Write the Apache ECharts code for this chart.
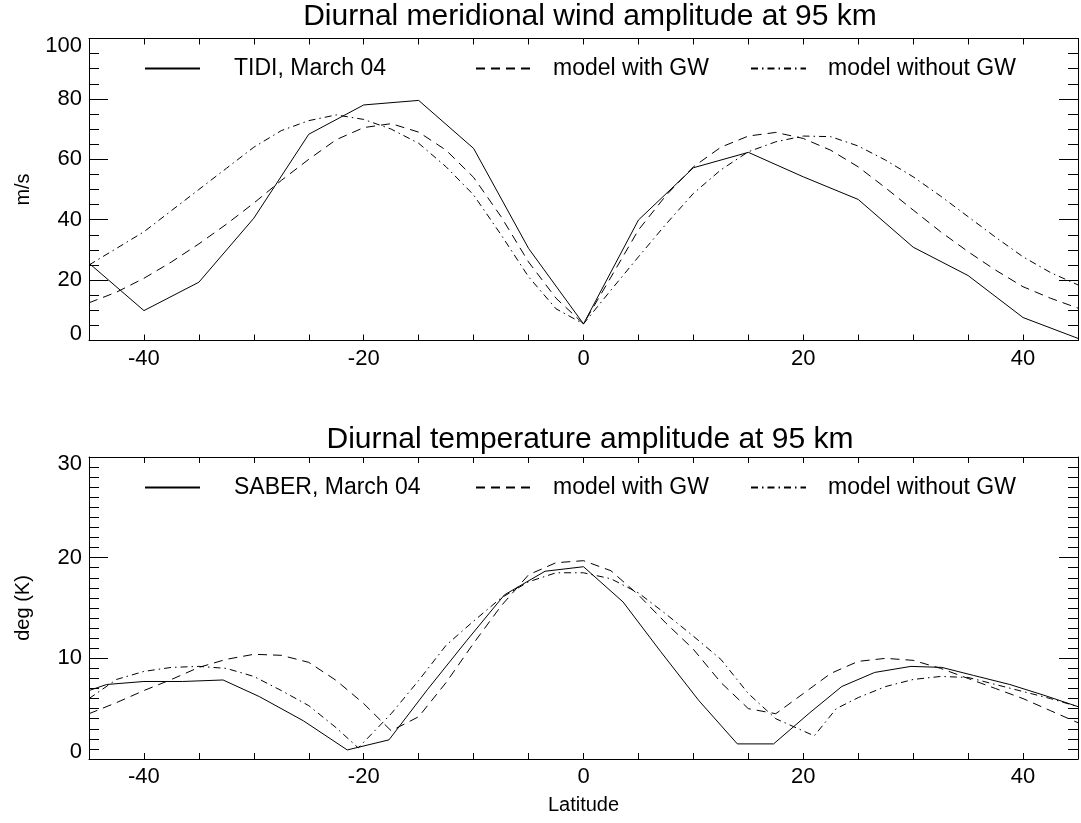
<!DOCTYPE html>
<html><head><meta charset="utf-8">
<script src="https://cdn.jsdelivr.net/npm/echarts@6/dist/echarts.min.js"></script>
<style>html,body{margin:0;padding:0;background:#fff}#c{width:1081px;height:823px}</style>
</head><body><div id="c"></div>
<script>
// ---------- Top panel: diurnal meridional wind amplitude (m/s) ----------
const tidiLat = [-45,-40,-35,-30,-25,-20,-15,-10,-5,0,5,10,15,20,25,30,35,40,45];
const tidiWind = [25.6,9.9,19.3,40.5,68.3,78,79.5,63.6,30.5,5.5,39.9,57.2,62.3,54.2,46.7,30.9,21.5,7.6,0.7];
const windModelLat = [-45,-42.5,-40,-37.5,-35,-32.5,-30,-27.5,-25,-22.5,-20,-17.5,-15,-12.5,-10,-7.5,-5,-2.5,0,2.5,5,7.5,10,12.5,15,17.5,20,22.5,25,27.5,30,32.5,35,37.5,40,42.5,45];
const windWithGW = [12.5,16,20.6,26,32,38.5,45.5,53,60,66.5,70.5,71.8,69,63,54,41,26,14,5.5,21,36.6,48,57.5,64,67.7,68.9,66.9,63,57.5,50.5,43.2,36,29.4,23.3,17.8,14,10.7];
const windWithoutGW = [25,30.5,36,43,50,57,64,69.5,72.8,74.7,73.2,70,65.3,57.5,48.2,35,21.1,10.5,5.5,16.7,27.7,38.5,48.7,56.5,62.5,65.8,67.7,67.5,64.4,59.7,54.2,47.8,41,34.2,27.7,22.5,18.4];

// ---------- Bottom panel: diurnal temperature amplitude (K) ----------
const saberLat = [-45,-43.4,-40,-36.5,-32.8,-29.5,-25.5,-21.5,-17.7,-14.2,-10.6,-7.2,-3.5,0,3.6,7.0,10.5,14,17.3,20.6,23.5,26.5,29.8,32.6,35.5,38.8,42,45];
const saberTemp = [6.8,7.4,7.7,7.7,7.85,6.2,3.8,0.9,1.9,6.9,11.8,16.3,18.65,19.1,15.6,10.7,5.8,1.5,1.5,4.6,7.2,8.6,9.2,9.1,8.3,7.4,6.3,5.2];
const tempGWLat = [-45,-42.5,-40,-37.5,-35,-32.5,-30,-27.5,-25,-22.5,-20,-17.5,-15,-12.5,-10,-7.5,-5,-2.5,0,2.5,5,7.5,10,12.5,15,17.5,20,22.5,25,27.5,30,32.5,35,37.5,40,42.5,45];
const tempWithGW = [4.5,5.6,6.8,7.9,9.1,9.9,10.4,10.3,9.6,7.8,5.5,2.8,4.2,7.6,11.5,15.2,18.3,19.5,19.7,18.7,16.3,13.5,10.9,7.6,5.0,4.5,6.5,8.5,9.7,10.0,9.8,9.0,8.0,7.0,6.0,4.8,3.6];
const tempNoGWLat = [-45,-42.5,-40,-37.5,-35,-32.5,-30,-27.5,-25,-22.5,-20.5,-17.5,-15,-12.5,-10,-7.5,-5,-2.5,0,2.5,5,7.5,10,12.5,15,17.5,21,23,25,27.5,30,32.5,35,37.5,40,42.5,45];
const tempWithoutGW = [6.0,7.9,8.7,9.1,9.2,9.0,8.2,6.8,5.3,3.1,1.1,4.5,7.8,11.3,13.7,16.0,17.6,18.5,18.5,17.9,16.5,14.4,12.2,9.9,6.5,4.0,2.3,5.0,6.1,7.2,7.9,8.2,8.1,7.4,6.7,6.0,5.2];

const titles = ['Diurnal meridional wind amplitude at 95 km', 'Diurnal temperature amplitude at 95 km'];
const yNames = ['m/s', 'deg (K)'];
const xName = 'Latitude';
const legendNames = [['TIDI, March 04', 'model with GW', 'model without GW'],
                     ['SABER, March 04', 'model with GW', 'model without GW']];

const zip = (a, b) => a.map((x, i) => [x, b[i]]);
const FONT = '"Liberation Sans", Arial, Helvetica, sans-serif';
const BLACK = '#000';
const DASH = [9, 6];
const DASHDOT = [7, 4, 1.5, 4];

const gridTops = [38.5, 457];
const plotH = 302;

function xAxes(gi) {
  const base = {
    type: 'value', gridIndex: gi, min: -45, max: 45, interval: 5,
    axisLine: { onZero: false, lineStyle: { color: BLACK, width: 1 } },
    axisTick: { inside: true, length: 6, lineStyle: { color: BLACK } },
    splitLine: { show: false }
  };
  return [
    Object.assign({}, base, {
      position: 'bottom',
      axisLabel: { color: BLACK, fontSize: 22, fontFamily: FONT, margin: 7,
        formatter: v => (Math.abs(v) % 20 === 0 ? String(v) : '') },
      name: gi === 1 ? xName : '', nameLocation: 'middle', nameGap: 36,
      nameTextStyle: { color: BLACK, fontSize: 20, fontFamily: FONT }
    }),
    Object.assign({}, base, { position: 'top', axisLabel: { show: false } })
  ];
}
function yAxes(gi, max, interval, minorSplit) {
  const base = {
    type: 'value', gridIndex: gi, min: 0, max: max, interval: interval,
    axisLine: { show: true, onZero: false, lineStyle: { color: BLACK, width: 1 } },
    axisTick: { show: true, inside: true, length: 19, lineStyle: { color: BLACK } },
    minorTick: { show: true, splitNumber: minorSplit, length: 10, lineStyle: { color: BLACK } },
    splitLine: { show: false }, minorSplitLine: { show: false }
  };
  return [
    Object.assign({}, base, {
      position: 'left',
      axisLabel: { color: BLACK, fontSize: 22, fontFamily: FONT, margin: 7, lineHeight: 14,
        verticalAlignMinLabel: 'bottom', verticalAlignMaxLabel: 'top' },
      name: yNames[gi], nameLocation: 'middle', nameGap: 56,
      nameTextStyle: { color: BLACK, fontSize: 20, fontFamily: FONT }
    }),
    Object.assign({}, base, { position: 'right', axisLabel: { show: false } })
  ];
}

function line(name, gi, data, type) {
  return {
    type: 'line', name: name, xAxisIndex: gi * 2, yAxisIndex: gi * 2, data: data,
    symbol: 'none', showSymbol: false, clip: true, animation: false,
    lineStyle: { color: BLACK, width: 1, type: type }, itemStyle: { color: BLACK }
  };
}

const legendPos = [[139, 29], [470, 17], [745, 17]];
const legendY = [68, 487];
const legends = [];
for (let g = 0; g < 2; g++) {
  for (let k = 0; k < 3; k++) {
    legends.push({
      data: [legendNames[g][k]], left: legendPos[k][0], top: legendY[g] - 16,
      itemWidth: 55, itemHeight: 14, selectedMode: false,
      itemStyle: { opacity: 0 },
      textStyle: { color: BLACK, fontSize: 23, fontFamily: FONT, padding: [0, 0, 12, legendPos[k][1]] }
    });
  }
}

const option = {
  backgroundColor: '#fff',
  animation: false,
  title: titles.map((t, i) => ({
    text: t, left: 590, textAlign: 'center', top: i === 0 ? 2 : 425, padding: 0,
    textStyle: { color: BLACK, fontSize: 30, fontWeight: 'normal', fontFamily: FONT }
  })),
  legend: legends,
  grid: gridTops.map(t => ({ left: 89, top: t, width: 991, height: plotH, containLabel: false })),
  xAxis: [].concat(xAxes(0), xAxes(1)),
  yAxis: [].concat(yAxes(0, 100, 20, 4), yAxes(1, 30, 10, 10)),
  series: [
    line(legendNames[0][0], 0, zip(tidiLat, tidiWind), 'solid'),
    line(legendNames[0][1], 0, zip(windModelLat, windWithGW), DASH),
    line(legendNames[0][2], 0, zip(windModelLat, windWithoutGW), DASHDOT),
    line(legendNames[1][0], 1, zip(saberLat, saberTemp), 'solid'),
    line(legendNames[1][1], 1, zip(tempGWLat, tempWithGW), DASH),
    line(legendNames[1][2], 1, zip(tempNoGWLat, tempWithoutGW), DASHDOT)
  ]
};
const chart = echarts.init(document.getElementById('c'), null, { renderer: 'canvas' });
chart.setOption(option);
</script></body></html>
